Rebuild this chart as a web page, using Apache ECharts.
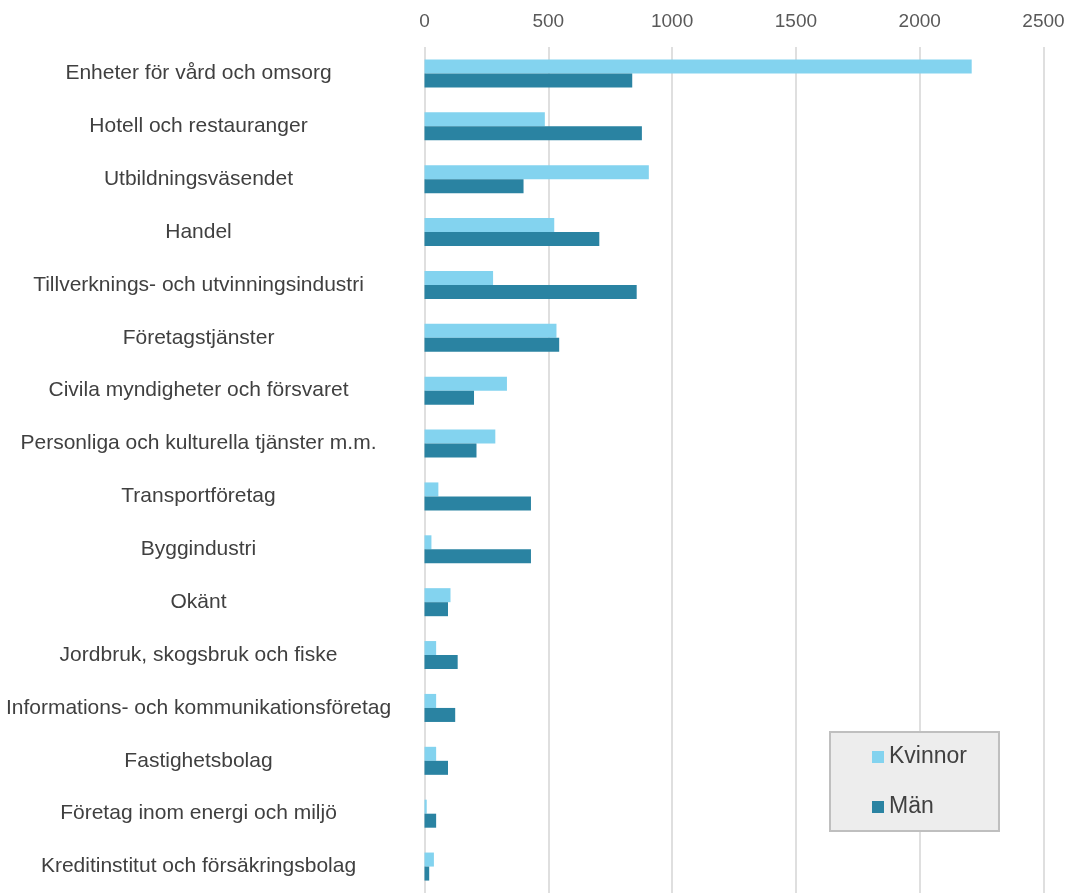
<!DOCTYPE html>
<html>
<head>
<meta charset="utf-8">
<script src="https://cdn.jsdelivr.net/npm/echarts@6/dist/echarts.min.js"></script>
<style>
html,body{margin:0;padding:0;background:#fff;}
#chart{width:1072px;height:893px;}
</style>
</head>
<body>
<div id="chart"></div>
<script>
const categories = [
  "Enheter för vård och omsorg",
  "Hotell och restauranger",
  "Utbildningsväsendet",
  "Handel",
  "Tillverknings- och utvinningsindustri",
  "Företagstjänster",
  "Civila myndigheter och försvaret",
  "Personliga och kulturella tjänster m.m.",
  "Transportföretag",
  "Byggindustri",
  "Okänt",
  "Jordbruk, skogsbruk och fiske",
  "Informations- och kommunikationsföretag",
  "Fastighetsbolag",
  "Företag inom energi och miljö",
  "Kreditinstitut och försäkringsbolag"
];
const kvinnor = [2210, 486, 906, 524, 277, 533, 333, 286, 56, 28, 105, 47, 47, 47, 9, 38];
const man = [839, 878, 400, 706, 857, 544, 200, 210, 430, 430, 95, 134, 124, 95, 47, 19];
const seriesNames = ["Kvinnor", "Män"];
const xTicks = { min: 0, max: 2500, interval: 500 };

const chart = echarts.init(document.getElementById('chart'));
const font = "Liberation Sans, Arial, sans-serif";
chart.setOption({
  animation: false,
  backgroundColor: '#ffffff',
  textStyle: { fontFamily: font },
  grid: { left: 424.5, right: 28.5, top: 47, height: 850, containLabel: false },
  legend: {
    orient: 'vertical',
    left: 830, top: 732,
    data: seriesNames,
    icon: 'rect',
    itemWidth: 12, itemHeight: 12, itemGap: 26, itemTextGap: 4,
    backgroundColor: '#EDEDED',
    borderColor: '#BFBFBF', borderWidth: 2, borderRadius: 0,
    padding: [13, 32, 12, 42],
    textStyle: { fontSize: 23, color: '#404040', lineHeight: 24, fontFamily: font }
  },
  xAxis: {
    type: 'value', position: 'top',
    min: xTicks.min, max: xTicks.max, interval: xTicks.interval,
    axisLine: { show: false }, axisTick: { show: false },
    axisLabel: { fontSize: 19, color: '#595959', margin: 16, fontFamily: font,
      formatter: function (v) { return String(v); } },
    splitLine: { show: true, lineStyle: { color: '#D4D4D4', width: 1.5 } }
  },
  yAxis: {
    type: 'category', inverse: true, data: categories,
    axisLine: { show: false }, axisTick: { show: false },
    axisLabel: { fontSize: 21, color: '#404040', align: 'center', margin: 226, fontFamily: font }
  },
  series: [
    { name: seriesNames[0], type: 'bar', data: kvinnor, barGap: '0%', barCategoryGap: '47%',
      itemStyle: { color: '#83D3EF' } },
    { name: seriesNames[1], type: 'bar', data: man, barGap: '0%', barCategoryGap: '47%',
      itemStyle: { color: '#2A83A2' } }
  ]
});
</script>
</body>
</html>
